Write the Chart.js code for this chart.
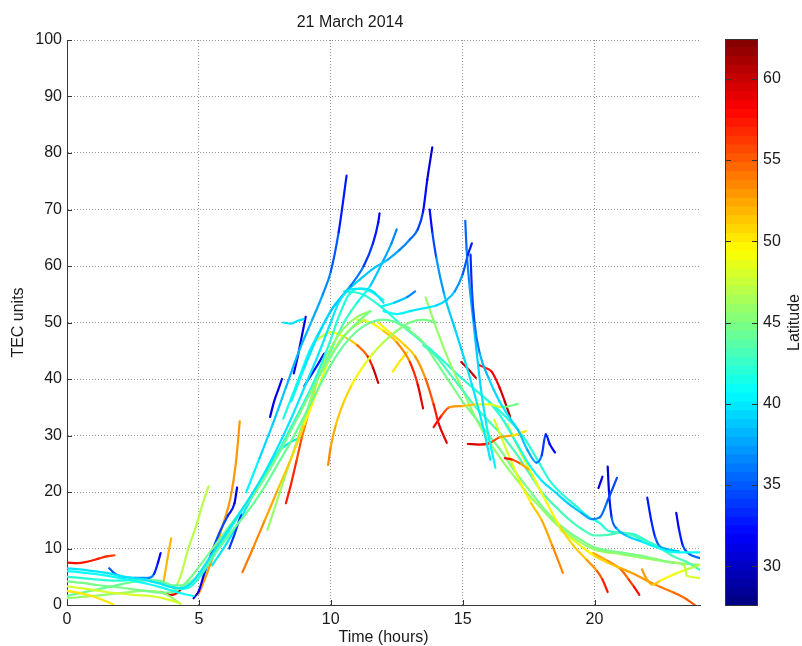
<!DOCTYPE html>
<html><head><meta charset="utf-8">
<script src="https://cdn.jsdelivr.net/npm/chart.js@4.4.0/dist/chart.umd.min.js"></script>
<style>
html,body{margin:0;padding:0;background:#fff;}
#wrap{position:relative;width:802px;height:646px;overflow:hidden;}
#main{position:absolute;left:0;top:0;}
#cbar{position:absolute;left:700px;top:0;}
</style></head><body>
<div id="wrap"><canvas id="main" width="802" height="646"></canvas><canvas id="cbar" width="102" height="646"></canvas></div>
<script>
const chartTitle = '21 March 2014';
const xTitle = 'Time (hours)';
const yTitle = 'TEC units';
const cbarTitle = 'Latitude';
const xTicks = [0, 5, 10, 15, 20];
const yTicks = [0, 10, 20, 30, 40, 50, 60, 70, 80, 90, 100];
const cbarTicks = [30, 35, 40, 45, 50, 55, 60];
const latRange = [27.55, 62.45];

// each entry is one satellite track: times (hours), TEC values, latitude (single or per point)
const trackHours = [
  [0,0.4,0.8,1.2,1.5,1.8],
  [0,0.5,1,1.6,2.2,2.9,3.5,3.9,4.3,4.7,5.0,5.5,6,6.5,7,7.5,8,8.5,9,9.5,10,10.3,10.7,11.2,11.6,12],
  [0,0.7,1.5,2.3,3,3.5,4,4.4,4.8],
  [0,0.6,1.2,2,2.8,3.5,4,4.4,4.8,5.2,5.6,6,6.5,7,7.5,8,8.5,9,9.5,10,10.5,11,11.5],
  [0,0.8,1.5,2.5,3.3,3.8,4.3],
  [0,0.5,1,1.4,1.75],
  [0,1,2,3,3.6,4,4.3],
  [0,0.8,1.6,2.4,3.1,3.6,4.0,4.4,4.8,5.2,5.6,6,6.5,7,7.5,8,8.5,9,9.5,10,10.5,11,11.5,12,12.5,13],
  [0,0.5,1.2,2,2.7,3.3,3.8,4.2,4.6,5,5.4,5.8,6.2,6.6,7,7.5,8,8.5,9,9.5,10,10.3,10.7,11.1,11.5,12],
  [1.6,1.8,2.1,2.6,3.1,3.3,3.45,3.55],
  [3.65,3.75,3.85,3.95],
  [3.55,3.8,4.0,4.2,4.3],
  [4.8,5.0,5.2,5.5,5.8,6.1,6.35,6.45],
  [6.15,6.35,6.6],
  [4.0,4.3,4.6,4.9,5.15,5.37],
  [5.0,5.3,5.6,5.9,6.2,6.4,6.55],
  [6.65,7,7.5,8,8.5,9,9.5,9.9,10.3,10.8,11.3],
  [7.6,8,8.5,9,9.5,10,10.5,11,11.5],
  [8.3,8.5,8.7,8.9,9.1,9.3,9.5],
  [9.9,10.0,10.2,10.5,10.8,11.2,11.6,12,12.5,13,13.5,14],
  [6.8,7.3,7.8,8.3,8.8,9.3,9.7,10.0,10.3,10.6],
  [8.5,9,9.5,10,10.4,10.75,11.25,11.6,11.8,11.85],
  [9.5,10,10.5,11,11.5,12,12.3,12.5],
  [8.2,8.7,9.2,9.7,10.1,10.6,11.1,11.6,12.15,12.6,13.0,13.3,13.5,13.66,13.85],
  [13.75,13.85,14.0,14.3,14.7,15.1,15.5,15.8,16.05],
  [12.0,12.5,13,13.5,14,14.4,14.7,15.0,15.2,15.35],
  [15.3,15.35,15.45,15.65,16.0,16.4,16.8,17.1,17.45,17.8,18.0,18.15,18.3,18.5],
  [15.1,15.15,15.25,15.4,15.55,15.7,15.9,16.24],
  [11.9,12.4,12.9,13.2],
  [5.5,6,6.5,7,7.5,8,8.4,8.9],
  [8.2,8.5,8.75,8.97],
  [8.6,8.75,8.9,9.05],
  [7.7,7.85,8.0,8.15],
  [9.0,9.3,9.5,9.75],
  [9.5,10,10.5,11,11.4,11.6,11.8],
  [11.0,11.5,12,12.5,13,13.3,13.5],
  [11.8,12.3,12.8,13.2,13.6,13.9,14.1,14.4],
  [13.9,14.2,14.5,15,15.5,16,16.5,17.1],
  [12.35,12.6,12.9],
  [15.2,15.6,16,16.4,16.9,17.4],
  [14.95,15.2,15.5],
  [15.6,15.85,16.1,16.4,16.6,16.8],
  [16.6,16.9,17.2,17.5],
  [16.0,16.5,17,17.5,18,18.5,19,19.5,19.9,20.2,20.5,20.85],
  [20.15,20.25,20.3],
  [20.5,20.55,20.65,20.85,21.2,21.8,22.3,22.9,23.5,24],
  [22.0,22.15,22.3,22.45,22.8,23.2],
  [23.1,23.2,23.35,23.6,24],
  [21.8,21.95,22.2,22.5,23,23.5,24],
  [16.2,16.7,17.2,17.6,18,18.4,18.8],
  [16.7,17.2,17.7,18.2,18.7,19.2,19.7,20.1,20.3,20.5],
  [18.7,19.2,19.6,20,20.5,21,21.5,22,22.5,23,23.5,23.8],
  [19.95,20.5,21,21.3,21.5,21.7],
  [13.5,14,14.5,15,15.5,16,16.5,17,17.5,18,18.5,19,19.5,20,20.5,21,21.5,22,22.5,23,23.5,24],
  [12.5,13,13.5,14,14.5,15,15.5,16,16.5,17,17.5,18,18.5,19,19.5,20,21,22,23,23.4,23.5,24],
  [13.6,14,14.5,15.05,15.5,16,16.5,17,17.5,18,18.5,19,19.5,20,21,22,23,24],
  [10.5,11.2,11.9,12.7,13.5,14.2,14.9,15.5,16.05,16.7,17.3,17.8,18.3,18.8,19.3,19.8,20.2,20.5,21,21.5,22,22.5,23]
];
const trackTEC = [
  [7.5,7.4,7.7,8.2,8.6,8.8],
  [6.5,6.3,6,5.6,5.0,4.5,3.8,3.2,3.0,3.8,5.5,9,12.5,16,19.5,23.5,28,33,38.5,44,50,53.5,55.8,56,55.5,53.5],
  [6,5.7,5.2,4.5,3.8,3.2,2.5,2.0,1.6],
  [4.2,3.9,3.5,3.1,2.6,2.2,2.3,3.5,5.5,8,10.5,13,16,19,22.5,26.5,31,35.5,40,44,47.5,50,52],
  [3.3,2.8,2.3,1.8,1.5,1.0,0.3],
  [2.5,2.1,1.5,0.8,0.1],
  [1.2,1.6,2.1,2.5,2.2,1.2,0.2],
  [1.6,2.4,3.2,4.0,4.4,4.2,3.5,3.5,4.5,6.5,9,11.5,14.5,17.5,21,25,29,33.5,38,42.5,46,48.5,50,50.5,50,49],
  [5.0,4.8,4.5,4.3,4.6,4.2,3.5,2.8,3.0,4.8,7.5,10.5,13.5,16.5,19.5,23,27,31.5,36,41,47,51,55,56,55.5,54],
  [6.5,5.6,5.0,4.8,4.8,5.5,7.5,9.2],
  [3.8,6.5,9.3,11.8],
  [2.3,1.9,1.8,2.2,2.7],
  [1.2,2.5,5.5,9.5,13,15.8,18,20.8],
  [10,12.5,16],
  [2,5,10,14,18,21],
  [2,5.5,9.5,14,19,25,32.5],
  [5.8,9.5,15,20.5,26,32,38,43,46.5,49,50.5],
  [13.3,19,26,33,40,45.5,49,51,52],
  [18,21.5,25.5,29.5,33,36.5,40],
  [24.8,28,32,36,39,42,44.5,46.5,48.5,50,50.5,50],
  [20,26,32,38.5,45,50.5,55,59,66,76],
  [36,42,47.5,52,54.5,56.5,60,64,67.7,69.3],
  [40,45,50,53.5,56.5,61,64,66.5],
  [33,39,45,49.5,52.8,55.5,57.6,59.5,61.1,62.8,64.7,66.5,69.6,75.3,81],
  [70,66,61.5,55,49,43,36.5,31,25.7],
  [52,51.5,52,52.5,53,54,55.5,58.5,62,64],
  [62,56,50,44.5,40,36,33,31,27.5,25.2,26.5,30.2,28.5,27],
  [68,63,57,50.5,44,38,32,24.3],
  [52.8,53.5,54.5,55.5],
  [7,10.5,14.5,19,23,27,28.6,29.8],
  [50,49.8,50.3,50.6],
  [41,44,47.5,51],
  [33.3,36,38,40],
  [38.8,41,42.5,44.5],
  [47,48.3,47.5,46,44,42,39.3],
  [50.5,50,48.5,46.5,43,39,34.8],
  [50,48,46,44,40,35.5,32,28.7],
  [31.5,33.5,35,35.2,35.5,35.5,35,35.6],
  [41.3,43,44.7],
  [28.5,28.4,28.6,29.7,30,30.8],
  [43,41.8,40.2],
  [42.5,42,41.3,38.5,36,33.3],
  [26,25.7,25,24],
  [36,33,29,25,22,20,18,16.3,15.2,15.5,18.5,22.5],
  [20.7,22,22.7],
  [24.5,20,15.5,13.5,12.3,11.2,10.3,9.4,9.3,9.3],
  [19,15,12,10.5,9.8,9.5],
  [16.3,13.5,10.5,9,8.3],
  [6.3,4.8,3.6,4.3,5.4,6.3,7.1],
  [32.8,27,21.6,18,15,10.5,5.7],
  [32,27,22.5,18,13.8,10.5,8,6,4.5,2.3],
  [13.3,11.5,10,8.7,7.5,6.5,5.5,4.3,3.2,2.2,1,0],
  [9.2,7.8,6.3,4.5,3.2,1.8],
  [46,44,41,38,35,32.5,30,27,23.5,20,17.5,15.3,13.5,12.3,12.4,12.8,12.2,11,10,8.6,7.6,6.2],
  [50,48.5,46.5,43,39.5,36,33,30,27,23.5,20.5,17.5,15,13,11.5,10.2,9.3,8.5,7.5,7,5.2,4.8],
  [54.4,49,43,37.6,33,29,25.5,22.5,19.5,17,14.5,12.5,11,9.8,9,8.2,7.5,7.1],
  [55.5,55,52.8,49.5,46.4,43.5,40.4,38,35.8,33,29.8,26,22,19.5,17.5,15.5,14.5,13.2,12.8,12.5,11.3,10.2,9.6]
];
const trackLat = [
  [58,58,57,57,56,56],
  40,
  41,
  45,
  48,
  50,
  46,
  44,
  42,
  [35,35,36,37,37,35,32,31],
  52,
  [60,60,59,58,61],
  [30,31,32,34,35,34,32,30],
  34,
  47,
  53,
  [54,54,53,52,51,50,49,48,48,47,47],
  46,
  [58,57,56,55,53,52,51],
  [54,53,52,51,50,49,48,47,46,45,45,44],
  [41,40,39,38,38,38,37,36,34,32],
  [41,40,40,39,38,37,35,33,32,31],
  [44,43,43,42,40,38,37,36],
  [42,41,41,40,40,40,39,39,38,37,36,35,33,31,30],
  [31,33,36,38,39,40,40,40,40],
  [41,41,40,40,40,39,38,36,34,32],
  [33,34,35,37,39,40,40,39,38,37,35,33,32,32],
  [35,36,37,38,39,40,40,41],
  [41,40,38,35],
  40,
  40,
  31,
  31,
  33,
  [47,48,50,53,56,59,61],
  [48,49,50,52,55,58,60],
  [49,50,51,52,54,56,58,60],
  [59,57,54,52,50,49,47,42],
  50,
  [60,59,57,54,51,49],
  60,
  [57,57,58,59,60,61],
  [59,57,54,51],
  [42,42,42,41,40,40,39,38,37,36,35,34],
  31,
  [30,31,34,37,39,40,41,41,41,41],
  [32,33,34,36,38,39],
  [31,32,34,35,36],
  [53,53,52,50,49,48,46],
  [48,48,49,50,52,53,54],
  [48,48,49,49,50,51,52,54,56,58],
  [47,48,49,50,51,52,53,53,54,54,55,55],
  [52,53,54,55,57,59],
  43,
  [45,45,45,45,45,45,45,45,45,45,45,45,45,45,45,45,45,45,46,46,48,48],
  46,
  42
];

const FONT = "'Liberation Sans', Arial, Helvetica, sans-serif";
Chart.defaults.font.family = FONT;
Chart.defaults.font.size = 16;
Chart.defaults.color = '#1a1a1a';

function jet(lat) {
  const t = (lat - latRange[0]) / (latRange[1] - latRange[0]);
  const i = Math.min(63, Math.max(0, Math.floor(t * 64)));
  const x = (i + 0.5) / 64;
  const c = v => Math.round(255 * Math.min(1, Math.max(0, v)));
  return 'rgb(' + c(1.5 - Math.abs(4 * x - 3)) + ',' + c(1.5 - Math.abs(4 * x - 2)) + ',' + c(1.5 - Math.abs(4 * x - 1)) + ')';
}

const datasets = trackHours.map((hs, i) => {
  const lats = Array.isArray(trackLat[i]) ? trackLat[i] : hs.map(() => trackLat[i]);
  return {
    data: hs.map((h, j) => ({ x: h, y: trackTEC[i][j] })),
    borderColor: jet(lats[0]),
    segment: { borderColor: ctx => jet((lats[ctx.p0DataIndex] + lats[ctx.p1DataIndex]) / 2) },
    borderWidth: 2.2,
    borderCapStyle: 'round',
    borderJoinStyle: 'round',
    pointRadius: 0,
    pointHoverRadius: 0,
    fill: false,
    cubicInterpolationMode: 'monotone'
  };
});

const insideTicks = {
  id: 'insideTicks',
  afterDraw(chart) {
    const { ctx, chartArea: a, scales } = chart;
    ctx.save();
    ctx.strokeStyle = '#333';
    ctx.lineWidth = 1;
    ctx.beginPath();
    xTicks.forEach(v => { const x = Math.round(scales.x.getPixelForValue(v)) + 0.5; ctx.moveTo(x, a.bottom); ctx.lineTo(x, a.bottom - 5); });
    yTicks.forEach(v => { const y = Math.round(scales.y.getPixelForValue(v)) + 0.5; ctx.moveTo(a.left, y); ctx.lineTo(a.left + 5, y); });
    ctx.stroke();
    ctx.restore();
  }
};

new Chart(document.getElementById('main'), {
  type: 'line',
  data: { datasets },
  options: {
    responsive: false,
    animation: false,
    events: [],
    layout: { padding: { left: 0, right: 102, top: 0, bottom: 0 } },
    plugins: {
      legend: { display: false },
      tooltip: { enabled: false },
      title: { display: true, text: chartTitle, color: '#1a1a1a', font: { size: 16, weight: 'normal', lineHeight: 1 }, padding: { top: 15, bottom: 9 } }
    },
    scales: {
      x: {
        type: 'linear', min: 0, max: 24,
        afterBuildTicks: s => { s.ticks = xTicks.map(v => ({ value: v })); },
        afterFit: s => { s.height = 41; },
        ticks: { padding: 5, maxRotation: 0, color: '#1a1a1a' },
        grid: { color: 'rgba(60,60,60,0.55)', lineWidth: 1, drawTicks: false },
        border: { display: true, color: '#3a3a3a', width: 1, dash: [1, 2] },
        title: { display: true, text: xTitle, color: '#1a1a1a', font: { size: 16, lineHeight: 1 }, padding: { top: 0, bottom: 0 } }
      },
      y: {
        type: 'linear', min: 0, max: 100,
        afterBuildTicks: s => { s.ticks = yTicks.map(v => ({ value: v })); },
        afterFit: s => { s.width = 67; },
        ticks: { padding: 5, color: '#1a1a1a' },
        grid: { color: 'rgba(60,60,60,0.55)', lineWidth: 1, drawTicks: false },
        border: { display: true, color: '#3a3a3a', width: 1, dash: [1, 2] },
        title: { display: true, text: yTitle, color: '#1a1a1a', font: { size: 16, lineHeight: 1 }, padding: { top: 11, bottom: 0 } }
      }
    }
  },
  plugins: [insideTicks]
});

// colour bar
const span = latRange[1] - latRange[0];
const cbDatasets = [];
for (let i = 0; i < 64; i++) {
  const lo = latRange[0] + i * span / 64;
  const hi = lo + span / 64;
  cbDatasets.push({
    data: [[lo, hi + 0.03]],
    backgroundColor: jet((lo + hi) / 2),
    borderWidth: 0,
    barPercentage: 1,
    categoryPercentage: 1,
    grouped: false
  });
}
const cbarDecor = {
  id: 'cbarDecor',
  afterDraw(chart) {
    const { ctx, chartArea: a, scales } = chart;
    ctx.save();
    ctx.strokeStyle = '#333';
    ctx.lineWidth = 1;
    ctx.strokeRect(Math.round(a.left) + 0.5, Math.round(a.top) + 0.5, Math.round(a.right - a.left) - 1, Math.round(a.bottom - a.top) - 1);
    ctx.beginPath();
    cbarTicks.forEach(v => {
      const y = Math.round(scales.y.getPixelForValue(v)) + 0.5;
      ctx.moveTo(a.left, y); ctx.lineTo(a.left + 6, y);
      ctx.moveTo(a.right, y); ctx.lineTo(a.right - 6, y);
    });
    ctx.stroke();
    ctx.translate(95, (a.top + a.bottom) / 2);
    ctx.rotate(-Math.PI / 2);
    ctx.fillStyle = '#1a1a1a';
    ctx.font = '16px ' + FONT;
    ctx.textAlign = 'center';
    ctx.textBaseline = 'middle';
    ctx.fillText(cbarTitle, 0, 0);
    ctx.restore();
  }
};
new Chart(document.getElementById('cbar'), {
  type: 'bar',
  data: { labels: [''], datasets: cbDatasets },
  options: {
    responsive: false,
    animation: false,
    events: [],
    layout: { padding: { left: 25, right: 0, top: 39, bottom: 40 } },
    plugins: { legend: { display: false }, tooltip: { enabled: false } },
    scales: {
      x: { display: false },
      y: {
        position: 'right', min: latRange[0], max: latRange[1],
        afterBuildTicks: s => { s.ticks = cbarTicks.map(v => ({ value: v })); },
        afterFit: s => { s.width = 44; },
        ticks: { padding: 5, color: '#1a1a1a' },
        grid: { display: false, drawTicks: false },
        border: { display: false }
      }
    }
  },
  plugins: [cbarDecor]
});
</script>
</body></html>
